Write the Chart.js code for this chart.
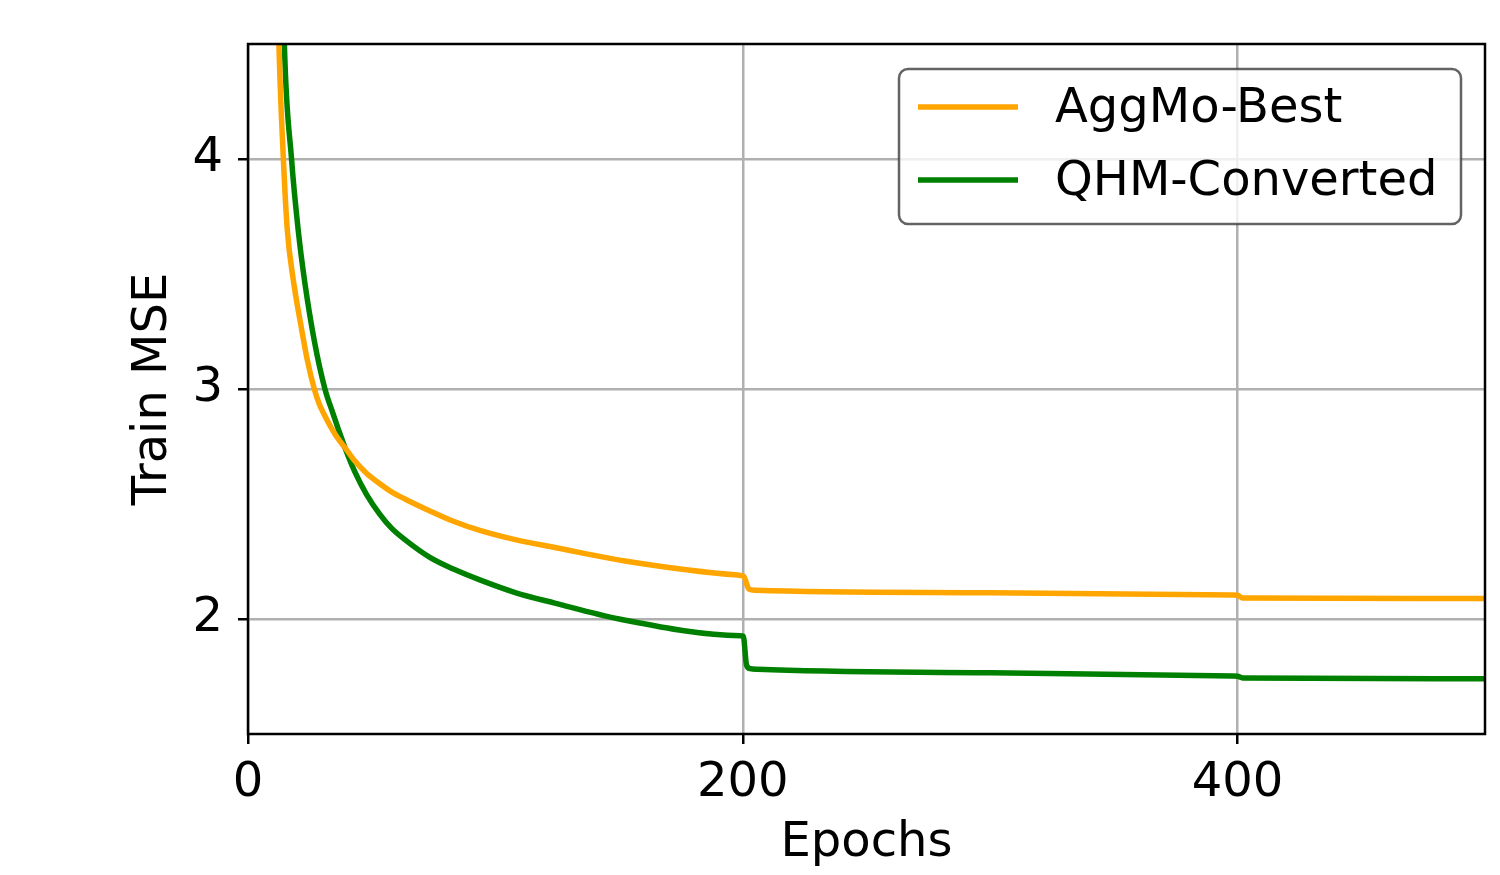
<!DOCTYPE html>
<html>
<head>
<meta charset="utf-8">
<script src="https://cdn.jsdelivr.net/npm/chart.js@4.4.1/dist/chart.umd.min.js"></script>
<style>
  html, body { margin: 0; padding: 0; background: #fff; }
  #wrap { width: 1500px; height: 875px; }
</style>
</head>
<body>
<div id="wrap"><canvas id="mseChart" width="1500" height="875"></canvas></div>
<script>
// values
const seriesNames = ["AggMo-Best", "QHM-Converted"];

const aggmoEpochs = [10.5, 11.5, 12.5, 14.3, 15.9, 18.3, 21.7, 24.0, 26.8, 28.8, 31.0, 33.1, 36.0, 39.2, 43.2, 48.0, 53.3, 58.0, 63.4, 73.5, 83.0, 93.7, 108, 124, 154.3, 198, 200.3, 202.5, 205, 300, 398, 400, 402, 500];
const aggmoMse    = [5.8, 5.05, 4.5, 4.0, 3.69, 3.475, 3.258, 3.125, 3.0, 2.935, 2.885, 2.842, 2.79, 2.745, 2.687, 2.633, 2.588, 2.553, 2.522, 2.47, 2.425, 2.385, 2.345, 2.311, 2.249, 2.191, 2.186, 2.13, 2.125, 2.114, 2.104, 2.103, 2.091, 2.089];

const qhmEpochs = [12.5, 13.6, 14.7, 17.6, 20.3, 23.0, 26.8, 31.1, 34.2, 36.5, 39.2, 43.2, 48.0, 53.3, 58.0, 63.4, 73.5, 83.5, 93.7, 108, 124, 150, 199, 200.2, 201.5, 203, 206, 300, 398, 400, 402, 500];
const qhmMse    = [5.9, 5.1, 4.5, 4.0, 3.69, 3.46, 3.21, 3.0, 2.898, 2.826, 2.745, 2.64, 2.54, 2.455, 2.395, 2.345, 2.268, 2.215, 2.17, 2.115, 2.069, 2.0, 1.927, 1.925, 1.80, 1.784, 1.781, 1.766, 1.752, 1.751, 1.744, 1.74];

const xTicks = [0, 200, 400];
const yTicks = [2, 3, 4];

const FONT = "'DejaVu Sans', 'Liberation Sans', sans-serif";

function toPoints(xs, ys) {
    return xs.map(function (x, i) { return { x: x, y: ys[i] }; });
}

// matplotlib style frame + legend box
const framePlugin = {
    id: "frame",
    afterDraw: function (chart) {
        const ctx = chart.ctx;
        const a = chart.chartArea;
        ctx.save();
        ctx.strokeStyle = "#000";
        ctx.lineWidth = 2.5;
        ctx.strokeRect(a.left, a.top, a.right - a.left, a.bottom - a.top);

        // legend
        const bx = 899, by = 69, bw = 562, bh = 155, r = 9;
        ctx.beginPath();
        ctx.moveTo(bx + r, by);
        ctx.arcTo(bx + bw, by, bx + bw, by + bh, r);
        ctx.arcTo(bx + bw, by + bh, bx, by + bh, r);
        ctx.arcTo(bx, by + bh, bx, by, r);
        ctx.arcTo(bx, by, bx + bw, by, r);
        ctx.closePath();
        ctx.fillStyle = "rgba(255,255,255,0.8)";
        ctx.fill();
        ctx.strokeStyle = "rgba(60,60,60,0.8)";
        ctx.lineWidth = 2.5;
        ctx.stroke();

        const rows = [107, 180];
        ctx.font = "48px " + FONT;
        ctx.textBaseline = "middle";
        ctx.textAlign = "left";
        chart.data.datasets.forEach(function (ds, i) {
            ctx.strokeStyle = ds.borderColor;
            ctx.lineWidth = 5.5;
            ctx.beginPath();
            ctx.moveTo(918, rows[i]);
            ctx.lineTo(1018, rows[i]);
            ctx.stroke();
            ctx.fillStyle = "#000";
            ctx.fillText(ds.label, 1055, rows[i] + 3);
        });
        ctx.restore();
    }
};

const ctx = document.getElementById("mseChart").getContext("2d");

new Chart(ctx, {
    type: "line",
    data: {
        datasets: [{
            label: seriesNames[0],
            data: toPoints(aggmoEpochs, aggmoMse),
            borderColor: "#ffa500",
            borderWidth: 5.5,
            pointRadius: 0,
            cubicInterpolationMode: "monotone",
            fill: false,
            clip: 0
        }, {
            label: seriesNames[1],
            data: toPoints(qhmEpochs, qhmMse),
            borderColor: "#008000",
            borderWidth: 5.5,
            pointRadius: 0,
            cubicInterpolationMode: "monotone",
            fill: false,
            clip: 0
        }]
    },
    options: {
        responsive: false,
        animation: false,
        layout: { padding: { left: 0, right: 15, top: 44, bottom: 0 } },
        plugins: {
            legend: { display: false },
            tooltip: { enabled: false }
        },
        scales: {
            x: {
                type: "linear",
                min: 0,
                max: 500,
                afterBuildTicks: function (scale) {
                    scale.ticks = xTicks.map(function (v) { return { value: v }; });
                },
                afterFit: function (scale) { scale.height = 141; },
                grid: { color: "#b0b0b0", lineWidth: 2.5, tickColor: "#000", tickWidth: 2.5, tickLength: 10 },
                border: { display: false },
                ticks: {
                    color: "#000",
                    font: { family: FONT, size: 48 },
                    padding: 11,
                    maxRotation: 0
                },
                title: {
                    display: true,
                    text: "Epochs",
                    color: "#000",
                    font: { family: FONT, size: 48 },
                    padding: { top: 0, bottom: 3 }
                }
            },
            y: {
                type: "linear",
                min: 1.5,
                max: 4.5,
                afterBuildTicks: function (scale) {
                    scale.ticks = yTicks.map(function (v) { return { value: v }; });
                },
                afterFit: function (scale) { scale.width = 248; },
                grid: { color: "#b0b0b0", lineWidth: 2.5, tickColor: "#000", tickWidth: 2.5, tickLength: 10 },
                border: { display: false },
                ticks: {
                    color: "#000",
                    font: { family: FONT, size: 48 },
                    padding: 15
                },
                title: {
                    display: true,
                    text: "Train MSE",
                    color: "#000",
                    font: { family: FONT, size: 48 },
                    padding: { top: 125, bottom: 0 }
                }
            }
        }
    },
    plugins: [framePlugin]
});
</script>
</body>
</html>
